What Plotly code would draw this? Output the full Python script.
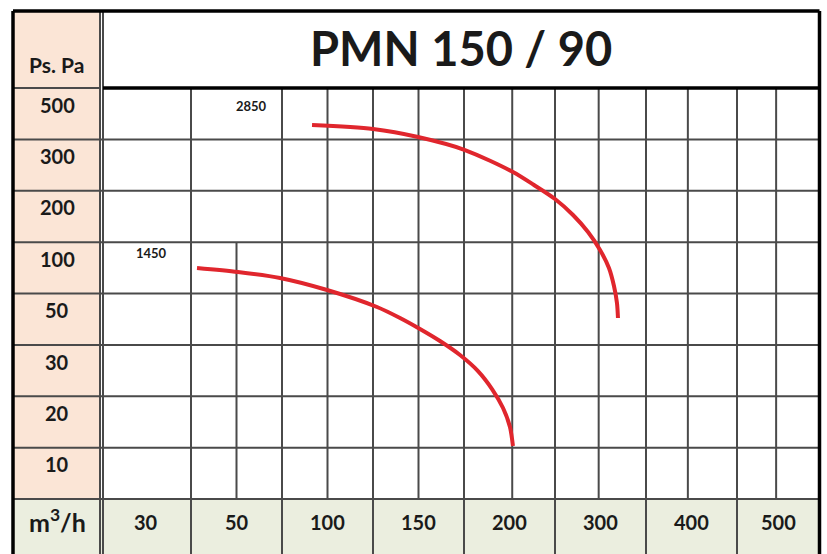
import plotly.graph_objects as go

# ---------------- data ----------------
y_labels = ["500", "300", "200", "100", "50", "30", "20", "10"]          # rows, top to bottom
x_labels = ["30", "50", "100", "150", "200", "300", "400", "500"]        # columns, left to right
title_text = "PMN 150 / 90"
y_title = "Ps. Pa"
x_title = "m<sup>3</sup>/h"

# curves in grid units (column index along x, row index from bottom along y)
rpm_1450 = "1450"
curve_1450_x = [1.066, 1.516, 1.978, 2.495, 3.044, 3.297, 3.516, 3.736, 3.956, 4.154, 4.308, 4.429, 4.505, 4.538]
curve_1450_y = [4.496, 4.418, 4.302, 4.068, 3.737, 3.523, 3.309, 3.075, 2.803, 2.491, 2.141, 1.771, 1.401, 1.032]
rpm_2850 = "2850"
curve_2850_x = [2.330, 3.000, 3.495, 4.011, 4.538, 4.769, 5.000, 5.198, 5.363, 5.495, 5.593, 5.648, 5.681, 5.692]
curve_2850_y = [7.280, 7.202, 7.046, 6.793, 6.365, 6.112, 5.839, 5.528, 5.197, 4.847, 4.496, 4.146, 3.815, 3.523]

# ---------------- layout geometry ----------------
W, H = 827, 554
PX0, PXU = 100, 91.0      # pixel of column 0, pixels per column
PY0, PYU = 499, 51.375    # pixel of row-bottom 0, pixels per row

def ux(px):
    return (px - PX0) / PXU

def vy(py):
    return (PY0 - py) / PYU

LEFT = ux(13)
RIGHT = ux(819.5)
TOP = vy(11)
BOTTOM = vy(H + 10)
col_edges = [0, 1, 2, 3, 4, 5, 6, 7, RIGHT]
half_cols = [2.5, 3.5, 4.53, 5.48, 6.46, 7.43]
n_rows = len(y_labels)

FONT = "Lato"
GRID = "#4a4a4a"
PEACH = "#FBE5D6"
GREEN = "#EBEEDF"
RED = "#E0262D"

shapes = []

def rect(x0, x1, y0, y1, fill):
    shapes.append(dict(type="rect", xref="x", yref="y", x0=x0, x1=x1, y0=y0, y1=y1,
                       fillcolor=fill, line=dict(width=0), layer="below"))

def line(x0, y0, x1, y1, color=GRID, width=2):
    shapes.append(dict(type="line", xref="x", yref="y", x0=x0, y0=y0, x1=x1, y1=y1,
                       line=dict(color=color, width=width), layer="below"))

rect(LEFT, 0, 0, TOP, PEACH)
rect(LEFT, RIGHT, BOTTOM, 0, GREEN)

for r in range(0, n_rows):
    line(LEFT, r, RIGHT, r)
line(LEFT, n_rows, 0, n_rows)
line(0, BOTTOM, 0, TOP)
line(ux(103), BOTTOM, ux(103), TOP)
for c in col_edges[1:-1]:
    line(c, BOTTOM, c, n_rows)
for c in half_cols:
    line(c, 0, c, n_rows)
line(1.5, 0, 1.5, 5)

# thick black frame
line(LEFT, TOP, RIGHT, TOP, "black", 3.5)
line(LEFT, BOTTOM, LEFT, TOP, "black", 3.5)
line(RIGHT, BOTTOM, RIGHT, TOP, "black", 3.5)
line(ux(103), n_rows, RIGHT, n_rows, "black", 3.5)

annotations = []

def label(x, y, text, size, yshift=0):
    annotations.append(dict(x=x, y=y, xref="x", yref="y", text=text, showarrow=False,
                            xanchor="center", yanchor="middle", yshift=yshift,
                            font=dict(family=FONT, size=size, color="#1a1a1a", weight=700)))

for i, t in enumerate(y_labels):
    label(ux(57), n_rows - i - 0.5, t, 20, yshift=9)
for i, t in enumerate(x_labels):
    label((col_edges[i] + col_edges[i + 1]) / 2, vy(522), t, 20)
label(ux(56), vy(64), y_title, 21)
label(ux(57), vy(520), x_title, 25)
label(ux(461), vy(48), title_text, 47)
label(ux(251), vy(106), rpm_2850, 13)
label(ux(151), vy(253), rpm_1450, 13)

fig = go.Figure()
for xs, ys, name in [(curve_1450_x, curve_1450_y, rpm_1450), (curve_2850_x, curve_2850_y, rpm_2850)]:
    fig.add_trace(go.Scatter(x=xs, y=ys, mode="lines", name=name,
                             line=dict(color=RED, width=4, shape="spline", smoothing=0.8),
                             hoverinfo="skip"))

fig.update_layout(
    width=W, height=H,
    margin=dict(l=0, r=0, t=0, b=0),
    paper_bgcolor="white", plot_bgcolor="white",
    showlegend=False,
    shapes=shapes, annotations=annotations,
    xaxis=dict(range=[ux(0), ux(W)], visible=False, fixedrange=True),
    yaxis=dict(range=[vy(H), vy(0)], visible=False, fixedrange=True),
)

fig.write_html("out.html", post_script="document.body.style.margin='0';",
               config={"displayModeBar": False})
